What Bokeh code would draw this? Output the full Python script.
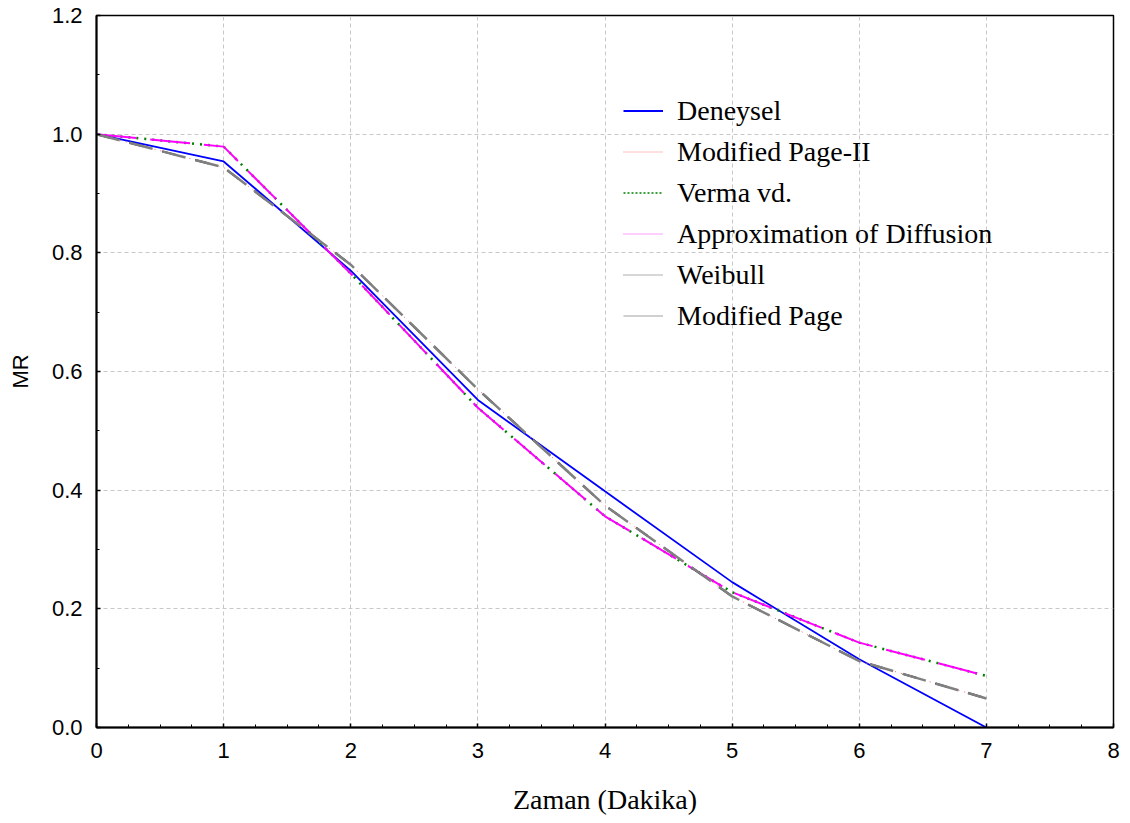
from bokeh.plotting import figure
from bokeh.models import Range1d, Legend, LegendItem, CustomJSTickFormatter, FixedTicker
from bokeh.embed import file_html
from bokeh.resources import INLINE

time_min = [0, 1, 2, 3, 4, 5, 6, 7]
deneysel = [1.0, 0.954, 0.770, 0.552, 0.398, 0.245, 0.115, 0.0]
modified_page_ii = [1.0, 0.944, 0.780, 0.570, 0.374, 0.221, 0.112, 0.049]
verma = [1.0, 0.979, 0.765, 0.539, 0.356, 0.228, 0.143, 0.087]
approx_diffusion = [1.0, 0.979, 0.765, 0.539, 0.356, 0.228, 0.143, 0.087]
weibull = [1.0, 0.944, 0.780, 0.570, 0.374, 0.221, 0.112, 0.049]
modified_page = [1.0, 0.944, 0.780, 0.570, 0.374, 0.221, 0.112, 0.049]

x_ticks = [0, 1, 2, 3, 4, 5, 6, 7, 8]
y_ticks = [0.0, 0.2, 0.4, 0.6, 0.8, 1.0, 1.2]

p = figure(width=1122, height=820, output_backend="svg", toolbar_location=None,
           x_range=Range1d(0, 8), y_range=Range1d(0, 1.2),
           min_border_left=96, min_border_top=15, min_border_right=9, min_border_bottom=93)
p.background_fill_color = "white"
p.border_fill_color = "white"
p.outline_line_color = "black"
p.outline_line_width = 1.5

sans = "Liberation Sans"
serif = "Liberation Serif"

p.xaxis.ticker = FixedTicker(ticks=x_ticks, minor_ticks=[i * 0.25 for i in range(33)])
p.yaxis.ticker = FixedTicker(ticks=y_ticks, minor_ticks=[i * 0.1 for i in range(13)])
p.yaxis.formatter = CustomJSTickFormatter(code="return tick.toFixed(1);")
for ax in (p.xaxis[0], p.yaxis[0]):
    ax.axis_line_color = "black"
    ax.axis_line_width = 2
    ax.major_tick_in = 4
    ax.major_tick_out = 0
    ax.minor_tick_in = 3
    ax.minor_tick_out = 0
    ax.major_tick_line_width = 1.5
    ax.major_label_text_font = sans
    ax.major_label_text_font_size = "22px"
    ax.major_label_text_color = "black"
    ax.axis_label_text_color = "black"
p.xaxis.major_label_standoff = 15
p.yaxis.major_label_standoff = 14
p.xaxis.axis_label = "Zaman (Dakika)"
p.xaxis.axis_label_text_font = serif
p.xaxis.axis_label_text_font_style = "normal"
p.xaxis.axis_label_text_font_size = "28px"
p.xaxis.axis_label_standoff = 23
p.yaxis.axis_label = "MR"
p.yaxis.axis_label_text_font = sans
p.yaxis.axis_label_text_font_style = "normal"
p.yaxis.axis_label_text_font_size = "22px"
p.yaxis.axis_label_standoff = 16

p.xgrid.ticker = FixedTicker(ticks=x_ticks)
p.ygrid.ticker = FixedTicker(ticks=y_ticks)
p.grid.grid_line_color = "#c8c8c8"
p.grid.grid_line_dash = "4 3"
p.grid.grid_line_width = 1

r1 = p.line(time_min, deneysel, line_color="#0000ff", line_width=1.8)
r2 = p.line(time_min, modified_page_ii, line_color="#ff6060", line_width=1, line_dash="1 5")
r3 = p.line(time_min, verma, line_color="#008000", line_width=2.5, line_dash="2 6")
r4 = p.line(time_min, approx_diffusion, line_color="#ff00ff", line_width=2, line_dash="40 14")
r5 = p.line(time_min, weibull, line_color="#000000", line_width=2, line_dash="14 20")
r6 = p.line(time_min, modified_page, line_color="#808080", line_width=2.5, line_dash="24 10")

# legend proxies (thin sample lines as in the reference legend; nothing drawn in the plot)
nan = float("nan")
l1 = p.line([nan], [nan], line_color="#0000ff", line_width=2)
l2 = p.line([nan], [nan], line_color="#ff8080", line_width=1, line_dash="1 1")
l3 = p.line([nan], [nan], line_color="#008000", line_width=1.5, line_dash="2 2")
l4 = p.line([nan], [nan], line_color="#ff40ff", line_width=1.2, line_dash="1 1")
l5 = p.line([nan], [nan], line_color="#606060", line_width=1.2, line_dash="1 1")
l6 = p.line([nan], [nan], line_color="#a0a0a0", line_width=1)

legend = Legend(items=[
    LegendItem(label="Deneysel", renderers=[l1]),
    LegendItem(label="Modified Page-II", renderers=[l2]),
    LegendItem(label="Verma vd.", renderers=[l3]),
    LegendItem(label="Approximation of Diffusion", renderers=[l4]),
    LegendItem(label="Weibull", renderers=[l5]),
    LegendItem(label="Modified Page", renderers=[l6]),
], location=(527, 391))
legend.border_line_color = None
legend.background_fill_alpha = 0
legend.padding = 0
legend.margin = 0
legend.spacing = 0
legend.glyph_width = 40
legend.glyph_height = 41
legend.label_height = 41
legend.label_standoff = 14
legend.label_text_font = serif
legend.label_text_font_size = "28px"
legend.label_text_color = "black"
p.add_layout(legend)

open("out.html", "w").write(file_html(p, INLINE))
